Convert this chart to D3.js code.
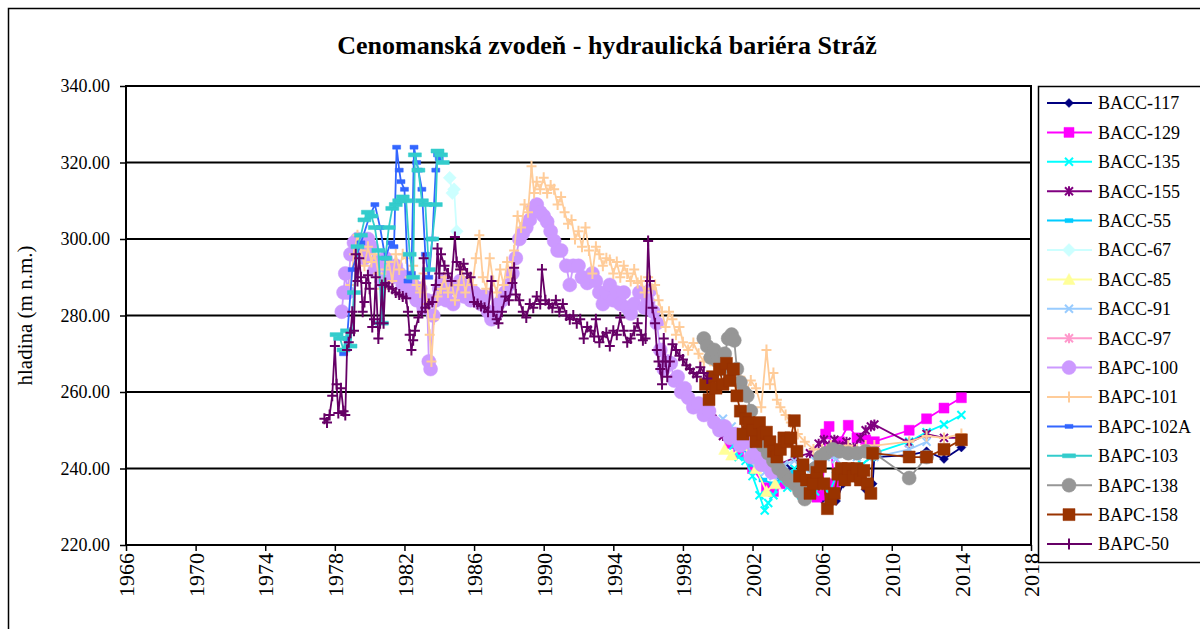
<!DOCTYPE html>
<html>
<head>
<meta charset="utf-8">
<script src="https://cdn.jsdelivr.net/npm/d3@7/dist/d3.min.js"></script>
<style>
  html, body { margin: 0; padding: 0; background: #fff; }
  svg { display: block; }
  text { font-family: "Liberation Serif", "Times New Roman", serif; fill: #000; }
</style>
</head>
<body>
<svg id="chart" width="1200" height="629"></svg>
<script>
// ---- Chart text ----
const chartTitle = "Cenomanská zvodeň - hydraulická bariéra Stráž";
const yAxisTitle = "hladina (m n.m.)";
const yTickValues = [220, 240, 260, 280, 300, 320, 340];
const xTickValues = [1966, 1970, 1974, 1978, 1982, 1986, 1990, 1994, 1998, 2002, 2006, 2010, 2014, 2018];

// ---- Measurements per well: [year, water level m n.m.] ----
const bacc117 = [[2000.5,251],[2001.0,249],[2001.5,250],[2002.0,246],[2002.5,243],[2003.0,240],[2003.5,238],[2004.0,240],[2004.5,236],[2005.0,234],[2005.5,238],[2006.0,232],[2006.5,231],[2006.8,231.5],[2007.2,236],[2007.6,238],[2008.0,237],[2008.5,234.5],[2008.9,236],[2009.0,243],[2011.0,243.5],[2012.0,244.5],[2013.0,242.5],[2014.0,245.5]];
const bacc129 = [[2000.7,246.5],[2001.2,244],[2002.0,240],[2002.8,235],[2003.2,234],[2003.6,236],[2004.2,238],[2004.7,235],[2005.2,234],[2005.7,232.5],[2006.0,233],[2006.2,249],[2006.4,251],[2006.7,236],[2007.0,247],[2007.5,251.3],[2008.0,248],[2008.5,247.5],[2009.0,247],[2011.0,250],[2012.0,253],[2013.0,255.8],[2014.0,258.5]];
const bacc135 = [[2000.9,246],[2001.2,243],[2001.6,242],[2002.0,238],[2002.4,233],[2002.7,229],[2002.9,231],[2003.2,233],[2003.6,237],[2004.0,235],[2004.4,240],[2004.8,233],[2005.2,237],[2005.6,234],[2006.0,236],[2006.4,233.5],[2006.8,238],[2007.3,240],[2007.8,239],[2008.3,241],[2008.8,243],[2009.0,244],[2011.0,247],[2012.0,249.5],[2013.0,251.5],[2014.0,254]];
const bacc155 = [[1999.7,253],[2000.1,250],[2000.3,248.5],[2000.6,250],[2000.9,249],[2001.5,247],[2002.5,244],[2003.5,241],[2004.5,243],[2005.3,244],[2005.8,246.5],[2006.1,247.5],[2006.4,246],[2006.7,247.5],[2007.0,246],[2007.4,247],[2007.8,245.5],[2008.2,248],[2008.5,250],[2008.8,251],[2009.0,251.5],[2011.0,246.7],[2012.0,249],[2013.0,248],[2014.0,248]];
const bacc55 = [[2000.8,247],[2001.5,245],[2002.0,241],[2002.6,237],[2003.2,236],[2003.8,238],[2004.4,239]];
const bacc67 = [[1984.6,316],[1984.75,312],[1984.85,313],[1985.0,302]];
const bacc85 = [[2000.4,245],[2000.8,243.5],[2001.5,246],[2002.2,240],[2002.8,234],[2003.3,236]];
const bacc91 = [[1999.9,252],[2000.3,253],[2000.8,251],[2001.2,248],[2001.7,246],[2002.2,242],[2002.7,239],[2003.2,238],[2003.8,241],[2004.4,242],[2005.0,240],[2005.6,242],[2006.2,243],[2006.8,242.5],[2007.4,244],[2008.0,243],[2008.6,244],[2009.0,243],[2011.0,245],[2012.0,247]];
const bacc97 = [[1990.2,305],[1990.35,303],[1990.5,302]];
const bapc100 = [[1978.4,281],[1978.5,286],[1978.6,291],[1978.75,286],[1978.9,296],[1979.1,299],[1979.3,300],[1979.5,297],[1979.7,295],[1979.9,300],[1980.1,298],[1980.3,292],[1980.5,294],[1980.7,289],[1980.9,295],[1981.1,292],[1981.3,290],[1981.5,293],[1981.7,291],[1981.9,288],[1982.1,290],[1982.3,286],[1982.5,288],[1982.7,284],[1982.9,287],[1983.1,282],[1983.3,284],[1983.4,268],[1983.5,266],[1983.65,280],[1983.8,284],[1984.0,287],[1984.2,289],[1984.4,284],[1984.6,287],[1984.8,283],[1985.0,287],[1985.2,289],[1985.4,285],[1985.6,287],[1985.8,284],[1986.0,286],[1986.2,285],[1986.4,283],[1986.6,285],[1986.8,281],[1987.0,279],[1987.2,280],[1987.4,283],[1987.6,284],[1987.8,286],[1988.0,288],[1988.2,291],[1988.4,295],[1988.6,300],[1988.8,301.5],[1989.0,303],[1989.2,305],[1989.4,308],[1989.6,309],[1989.8,307],[1990.0,306],[1990.2,304.5],[1990.4,302],[1990.6,299.5],[1990.8,297],[1991.0,297],[1991.3,293],[1991.5,288],[1991.7,293],[1992.0,293],[1992.2,290],[1992.5,288.5],[1992.8,291],[1993.0,289],[1993.2,286],[1993.4,283],[1993.6,286],[1993.8,288],[1994.0,284],[1994.2,286],[1994.4,283],[1994.6,286],[1994.8,282],[1995.0,280.5],[1995.2,283],[1995.5,286],[1995.8,282],[1996.0,283.5],[1996.1,286.5],[1996.3,281],[1996.5,278],[1996.7,271],[1996.9,266],[1997.1,268],[1997.3,267.5],[1997.5,263],[1997.7,264],[1997.9,260],[1998.1,261],[1998.3,258.5],[1998.6,256],[1998.9,257],[1999.2,254],[1999.5,255],[1999.8,252],[2000.1,250],[2000.4,251],[2000.7,248],[2001.0,249],[2001.3,246],[2001.6,247],[2001.9,243],[2002.2,244],[2002.5,241],[2002.8,242],[2003.1,239],[2003.4,239.5]];
const bapc101 = [[1978.9,288],[1979.1,296],[1979.3,301],[1979.5,297],[1979.7,293],[1979.9,298],[1980.1,294],[1980.3,296],[1980.5,291],[1980.7,287],[1980.9,292],[1981.1,294],[1981.3,289],[1981.5,296],[1981.7,292],[1981.9,296],[1982.1,295],[1982.3,290],[1982.5,293],[1982.7,288],[1982.9,286],[1983.1,291],[1983.3,283],[1983.45,275],[1983.55,268],[1983.7,279],[1983.9,285],[1984.1,287],[1984.3,290],[1984.5,286],[1984.7,289],[1984.9,284],[1985.1,288],[1985.3,292],[1985.5,286],[1985.7,290],[1985.9,288],[1986.1,295],[1986.3,301],[1986.5,290],[1986.7,287],[1986.9,295],[1987.1,289],[1987.3,286],[1987.5,292],[1987.7,288],[1987.9,294],[1988.1,290],[1988.3,297],[1988.5,306],[1988.7,303],[1988.9,309],[1989.1,307],[1989.3,319],[1989.45,312],[1989.6,315],[1989.8,313],[1990.0,316],[1990.2,312],[1990.4,314],[1990.6,313],[1990.8,309],[1991.0,311],[1991.2,307],[1991.4,304],[1991.6,305],[1991.8,300],[1992.0,302],[1992.2,298],[1992.4,303],[1992.6,297],[1992.8,291],[1993.0,298],[1993.2,296],[1993.4,293],[1993.6,295],[1993.8,294.5],[1994.0,291],[1994.2,294],[1994.4,290],[1994.6,293],[1994.8,291],[1995.0,289],[1995.2,292],[1995.4,288.5],[1995.6,289],[1995.8,286],[1996.0,290],[1996.2,287],[1996.4,288],[1996.6,284],[1996.8,281],[1997.0,277],[1997.2,281],[1997.4,279],[1997.6,275],[1997.8,277],[1998.0,273],[1998.3,271],[1998.6,272.8],[1998.9,270],[1999.2,268],[1999.5,272],[1999.8,267],[2000.1,269],[2000.4,265],[2000.7,266],[2001.0,262],[2001.3,264],[2001.6,260],[2001.9,263],[2002.2,261],[2002.5,256],[2002.8,271],[2003.0,262],[2003.2,265],[2003.4,258],[2003.6,256],[2003.9,254],[2004.2,252],[2004.6,249],[2005.0,247],[2005.5,245],[2006.0,245],[2006.5,246],[2007.0,245],[2007.5,246],[2008.0,245],[2008.5,246],[2009.0,246],[2011.0,247],[2012.0,248.5],[2013.0,248],[2014.0,249]];
const bapc102a = [[1978.5,270],[1978.7,274],[1979.0,292],[1979.5,299],[1980.0,306],[1980.3,309],[1980.6,303],[1980.9,295],[1981.2,299],[1981.4,298],[1981.55,324],[1981.7,318],[1981.8,315],[1982.0,313],[1982.2,289],[1982.4,291],[1982.55,324],[1982.7,320],[1982.8,318],[1983.0,313],[1983.2,296],[1983.4,290],[1983.6,300],[1983.8,318],[1983.9,322],[1984.0,321]];
const bapc103 = [[1978.1,275],[1978.3,274],[1978.5,271],[1978.7,276],[1978.9,272],[1979.1,286],[1979.3,298],[1979.5,301],[1979.7,305],[1979.9,307],[1980.1,306],[1980.3,303],[1980.5,297],[1980.7,278],[1980.9,295],[1981.1,303],[1981.3,308],[1981.5,309],[1981.7,310],[1981.9,311],[1982.1,310],[1982.3,296],[1982.5,290],[1982.6,322],[1982.8,318],[1983.0,310],[1983.2,309],[1983.4,292],[1983.6,300],[1983.8,309],[1983.9,323],[1984.1,322],[1984.2,320]];
const bapc138 = [[1999.2,274],[1999.4,272],[1999.6,269],[1999.8,271],[2000.0,268],[2000.2,266],[2000.4,270],[2000.6,274],[2000.8,275],[2000.95,273.5],[2001.1,266],[2001.3,262.5],[2001.5,260],[2001.7,259],[2001.9,255],[2002.1,251],[2002.3,248],[2002.6,246],[2002.9,244],[2003.2,242],[2003.5,240],[2003.8,238.5],[2004.1,237],[2004.4,236],[2004.7,234],[2005.0,232],[2005.3,236],[2005.6,240],[2005.9,243],[2006.2,244],[2006.6,245],[2007.0,244.5],[2007.5,244],[2008.0,244],[2008.5,244.5],[2009.0,244],[2011.0,237.5],[2012.0,243]];
const bapc158 = [[1999.3,262],[1999.5,258],[1999.7,264],[1999.9,261],[2000.1,266],[2000.3,262],[2000.5,267.5],[2000.7,263],[2000.9,266],[2001.1,259],[2001.3,255],[2001.45,249],[2001.6,253],[2001.8,252],[2002.0,250],[2002.2,247],[2002.4,252],[2002.6,249],[2002.8,249.5],[2003.0,247],[2003.2,244.5],[2003.4,243],[2003.6,245],[2003.8,248],[2004.0,247],[2004.2,248],[2004.4,252.5],[2004.55,244.5],[2004.7,238],[2004.9,241],[2005.1,237],[2005.3,233.5],[2005.5,236],[2005.7,239],[2005.9,240.5],[2006.1,236],[2006.3,229.5],[2006.5,232],[2006.7,233.5],[2006.9,238.5],[2007.1,240],[2007.3,237],[2007.5,240],[2007.8,238],[2008.0,240],[2008.2,237],[2008.4,239.5],[2008.6,236],[2008.8,233.5],[2008.9,244],[2011.0,243],[2012.0,243],[2013.0,245],[2014.0,247.5]];
const bapc50 = [[1977.4,253],[1977.55,252],[1977.7,254],[1977.85,259],[1978.0,272],[1978.1,262],[1978.2,254.5],[1978.35,261],[1978.5,255],[1978.6,254],[1978.7,271],[1978.8,273],[1978.9,275.5],[1979.0,281],[1979.1,276],[1979.2,296],[1979.3,289],[1979.4,295],[1979.5,290],[1979.6,281],[1979.7,283.5],[1979.8,288.5],[1979.9,290.5],[1980.0,287],[1980.15,277],[1980.25,279],[1980.35,290],[1980.5,274],[1980.6,278],[1980.7,288],[1980.8,278],[1980.9,288.5],[1981.1,287.5],[1981.3,287],[1981.5,286],[1981.7,285.5],[1981.9,285],[1982.1,284.5],[1982.2,281],[1982.3,275],[1982.4,271],[1982.5,273.5],[1982.6,276],[1982.8,279.5],[1983.0,281],[1983.1,295],[1983.2,282],[1983.4,283],[1983.6,283.5],[1983.8,288],[1983.9,297.5],[1984.0,291],[1984.1,296],[1984.3,293],[1984.5,291],[1984.7,289],[1984.9,300.5],[1985.0,294],[1985.2,292],[1985.4,293.5],[1985.6,291],[1985.8,290],[1986.0,283.5],[1986.2,283],[1986.4,282.5],[1986.6,282],[1986.8,281],[1987.0,289],[1987.1,281],[1987.3,279],[1987.4,278],[1987.6,281],[1987.8,285],[1988.0,284],[1988.2,288.5],[1988.3,292.5],[1988.4,285.5],[1988.6,284],[1988.8,281],[1989.0,279.5],[1989.2,283],[1989.4,282],[1989.6,285],[1989.8,283],[1989.9,292],[1990.1,284],[1990.3,283],[1990.5,282],[1990.7,284],[1990.9,281],[1991.1,283],[1991.3,280],[1991.5,279],[1991.7,280],[1991.9,278],[1992.1,279],[1992.3,274],[1992.5,277],[1992.7,276],[1992.9,274.5],[1993.0,279],[1993.2,273],[1993.4,274.5],[1993.6,275.5],[1993.8,272],[1994.0,276],[1994.2,275],[1994.4,279.5],[1994.6,276],[1994.8,273],[1995.0,274],[1995.2,276],[1995.4,278],[1995.6,275],[1995.7,273.5],[1995.85,274],[1996.0,299.5],[1996.1,289],[1996.25,282],[1996.4,278],[1996.5,271],[1996.6,268],[1996.7,266],[1996.8,262],[1996.9,274],[1997.0,268],[1997.1,264],[1997.25,268],[1997.4,272.5],[1997.6,271],[1997.8,269.5],[1998.0,268.5],[1998.2,267],[1998.4,266],[1998.6,265],[1998.8,264],[1999.0,266.5],[1999.2,265],[1999.4,263.5]];

// Series in legend (and drawing) order
const seriesNames = ["BACC-117","BACC-129","BACC-135","BACC-155","BACC-55","BACC-67","BACC-85","BACC-91","BACC-97","BAPC-100","BAPC-101","BAPC-102A","BAPC-103","BAPC-138","BAPC-158","BAPC-50"];
const seriesValues = [bacc117,bacc129,bacc135,bacc155,bacc55,bacc67,bacc85,bacc91,bacc97,bapc100,bapc101,bapc102a,bapc103,bapc138,bapc158,bapc50];
const seriesColors = ["#000080","#FF00FF","#00FFFF","#800080","#00CCFF","#CCFFFF","#FFFF99","#99CCFF","#FF99CC","#CC99FF","#FFCC99","#3366FF","#33CCCC","#969696","#993300","#660066"];
const seriesMarkers = ["diamond","square","x","star","dashS","diamondL","triangle","x","star","circle","plus","dashS","dashL","circle","squareL","plus"];

// ---- Layout ----
const W = 1200, H = 629;
const plot = { left: 126, right: 1031, top: 86, bottom: 545 };

const svg = d3.select("#chart");
svg.append("rect").attr("width", W).attr("height", H).attr("fill", "#fff");

// outer chart frame
svg.append("rect")
  .attr("x", 8.5).attr("y", 8.5).attr("width", 1220).attr("height", 660)
  .attr("fill", "none").attr("stroke", "#000").attr("stroke-width", 1.5);

svg.append("text")
  .attr("x", 607).attr("y", 54)
  .attr("text-anchor", "middle")
  .style("font-size", "26px").style("font-weight", "bold")
  .text(chartTitle);

const x = d3.scaleLinear().domain([1966, 2018]).range([plot.left, plot.right]);
const y = d3.scaleLinear().domain([220, 340]).range([plot.bottom, plot.top]);

// horizontal gridlines
svg.append("g").selectAll("line")
  .data(yTickValues.filter(v => v > 220 && v < 340))
  .join("line")
  .attr("x1", plot.left).attr("x2", plot.right)
  .attr("y1", d => y(d)).attr("y2", d => y(d))
  .attr("stroke", "#000").attr("stroke-width", 2);

// y axis
const yAxis = svg.append("g")
  .attr("transform", `translate(${plot.left},0)`)
  .call(d3.axisLeft(y).tickValues(yTickValues).tickFormat(d3.format(".2f")).tickSize(6).tickPadding(10));
yAxis.select(".domain").remove();
yAxis.selectAll(".tick line").attr("stroke", "#000").attr("stroke-width", 1.5);
yAxis.selectAll(".tick text")
  .style("font-size", "18px")
  .attr("dy", "0.32em");

// x axis
const xAxis = svg.append("g")
  .attr("transform", `translate(0,${plot.bottom})`)
  .call(d3.axisBottom(x).tickValues(xTickValues).tickFormat(d3.format("d")).tickSize(6));
xAxis.select(".domain").remove();
xAxis.selectAll(".tick line").attr("stroke", "#000").attr("stroke-width", 1.5);
xAxis.selectAll(".tick text")
  .style("font-size", "22px")
  .attr("text-anchor", "end")
  .attr("transform", "rotate(-90)")
  .attr("x", -8).attr("y", 0).attr("dy", "0.35em");

// y axis title
svg.append("text")
  .attr("transform", `translate(32,${(plot.top + plot.bottom) / 2}) rotate(-90)`)
  .attr("text-anchor", "middle")
  .style("font-size", "21px")
  .text(yAxisTitle);

// marker shapes
function markerPath(type) {
  switch (type) {
    case "diamond": return "M0,-4.5L4.5,0L0,4.5L-4.5,0Z";
    case "diamondL": return "M0,-6.5L6.5,0L0,6.5L-6.5,0Z";
    case "square": return "M-5,-5H5V5H-5Z";
    case "squareL": return "M-6,-6H6V6H-6Z";
    case "triangle": return "M0,-6L6,5H-6Z";
    case "circle": return d3.symbol(d3.symbolCircle, 155)();
    case "dashS": return "M-4,-2H4V2H-4Z";
    case "dashL": return "M-6.5,-2H6.5V2H-6.5Z";
    case "x": return "M-4,-4L4,4M-4,4L4,-4";
    case "star": return "M-4,-4L4,4M-4,4L4,-4M0,-5V5";
    case "plus": return "M-5,0H5M0,-5.5V5.5";
  }
}
const strokedMarkers = new Set(["x", "star", "plus"]);

function drawMarker(sel, type, color) {
  const p = sel.append("path").attr("d", markerPath(type));
  if (strokedMarkers.has(type)) {
    p.attr("fill", "none").attr("stroke", color).attr("stroke-width", 2);
  } else {
    p.attr("fill", color).attr("stroke", color).attr("stroke-width", 0.5);
  }
  return p;
}

// data layer, clipped to plot area
svg.append("clipPath").attr("id", "plotClip")
  .append("rect").attr("x", plot.left).attr("y", plot.top)
  .attr("width", plot.right - plot.left).attr("height", plot.bottom - plot.top);

const dataLayer = svg.append("g").attr("clip-path", "url(#plotClip)");
const line = d3.line().x(d => x(d[0])).y(d => y(d[1]));

seriesValues.forEach((vals, i) => {
  const g = dataLayer.append("g");
  g.append("path").attr("d", line(vals))
    .attr("fill", "none").attr("stroke", seriesColors[i]).attr("stroke-width", 1.8)
    .attr("stroke-linejoin", "round");
  vals.forEach(d => {
    const m = g.append("g").attr("transform", `translate(${x(d[0])},${y(d[1])})`);
    drawMarker(m, seriesMarkers[i], seriesColors[i]);
  });
});

// plot area frame
svg.append("rect")
  .attr("x", plot.left).attr("y", plot.top)
  .attr("width", plot.right - plot.left).attr("height", plot.bottom - plot.top)
  .attr("fill", "none").attr("stroke", "#000").attr("stroke-width", 2);

// legend
const legend = svg.append("g");
legend.append("rect")
  .attr("x", 1038.5).attr("y", 86.5).attr("width", 200).attr("height", 476)
  .attr("fill", "#fff").attr("stroke", "#000").attr("stroke-width", 1.5);
seriesNames.forEach((name, i) => {
  const cy = 103 + i * 29.4;
  const row = legend.append("g");
  row.append("line").attr("x1", 1047).attr("x2", 1092).attr("y1", cy).attr("y2", cy)
    .attr("stroke", seriesColors[i]).attr("stroke-width", 2);
  const m = row.append("g").attr("transform", `translate(1069,${cy})`);
  drawMarker(m, seriesMarkers[i], seriesColors[i]);
  row.append("text").attr("x", 1098).attr("y", cy).attr("dy", "0.35em")
    .style("font-size", "18px").text(name);
});
</script>
</body>
</html>
